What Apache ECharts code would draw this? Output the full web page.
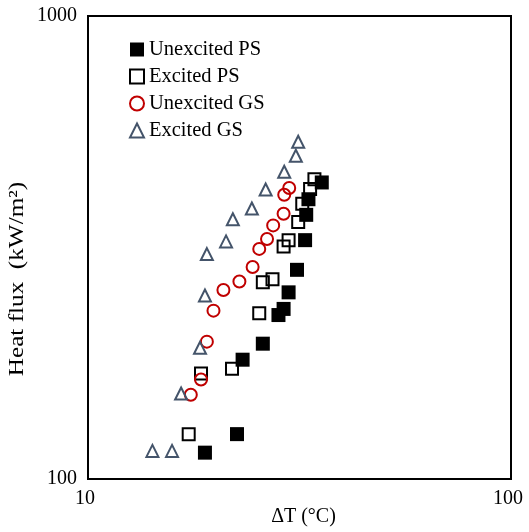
<!DOCTYPE html>
<html><head><meta charset="utf-8">
<script src="https://cdn.jsdelivr.net/npm/echarts@6/dist/echarts.min.js"></script>
<style>html,body{margin:0;padding:0;background:#fff}#c{width:529px;height:532px}</style>
</head><body><div id="c"></div>
<script>
// ΔT (°C), heat flux (kW/m²)
var unexcitedPS_T = [35.7, 33.2, 32.8, 32.6, 31.2, 29.8, 29.0, 28.2, 25.9, 23.2, 22.5, 18.9];
var unexcitedPS_q = [437, 402, 372, 328, 283, 253, 233, 226, 196, 181, 125, 114];
var excitedPS_T = [34.3, 33.5, 32.1, 31.4, 29.8, 29.0, 27.3, 25.9, 25.4, 21.9, 18.5, 17.3];
var excitedPS_q = [444, 423, 393, 359, 328, 318, 270, 266, 228, 173, 169, 125];
var unexcitedGS_T = [29.9, 29.1, 29.0, 27.4, 26.5, 25.4, 24.5, 22.8, 20.9, 19.8, 19.1, 18.5, 17.5];
var unexcitedGS_q = [425, 411, 374, 353, 330, 314, 287, 267, 256, 231, 198, 164, 152];
var excitedGS_T = [31.4, 31.0, 29.1, 26.3, 24.4, 22.0, 21.2, 19.1, 18.9, 18.4, 16.6, 14.2, 15.8];
var excitedGS_q = [535, 499, 461, 422, 384, 364, 326, 306, 249, 192, 153, 115, 115];
var seriesNames = ['Unexcited PS', 'Excited PS', 'Unexcited GS', 'Excited GS'];
var xTicks = [10, 100];
var yTicks = [100, 1000];

function pairs(a, b) { return a.map(function (v, i) { return [v, b[i]]; }); }
var FONT = '"Liberation Serif", "Times New Roman", serif';

var chart = echarts.init(document.getElementById('c'), null, {renderer: 'canvas'});
chart.setOption({
  animation: false,
  backgroundColor: '#fff',
  grid: {left: 88, right: 18, top: 16, bottom: 53, containLabel: false, outerBoundsMode: 'none',
    show: true, borderColor: '#000', borderWidth: 2, backgroundColor: 'transparent'},
  xAxis: {
    type: 'log', logBase: 10, min: xTicks[0], max: xTicks[1],
    name: 'ΔT (°C)', nameLocation: 'middle', nameGap: 28, nameMoveOverlap: false,
    nameTextStyle: {fontFamily: FONT, fontSize: 20, color: '#000', padding: [0, 0, 0, 8]},
    axisLine: {lineStyle: {color: '#000', width: 2}},
    axisTick: {show: false}, splitLine: {show: false}, minorTick: {show: false},
    axisLabel: {fontFamily: FONT, fontSize: 20, color: '#000', margin: 10, padding: [0, 6, 0, 0],
      formatter: function (v) { return String(Math.round(v)); }}
  },
  yAxis: {
    type: 'log', logBase: 10, min: yTicks[0], max: yTicks[1],
    axisLine: {lineStyle: {color: '#000', width: 2}},
    axisTick: {show: false}, splitLine: {show: false},
    axisLabel: {fontFamily: FONT, fontSize: 20, color: '#000', margin: 11,
      formatter: function (v) { return String(Math.round(v)); }}
  },
  legend: {
    orient: 'vertical', left: 124, top: 34, itemGap: 6, itemWidth: 14, itemHeight: 14,
    textStyle: {fontFamily: FONT, fontSize: 20.5, color: '#000', padding: [0, 0, 0, 0]},
    data: seriesNames
  },
  graphic: [{
    type: 'text', x: 17, y: 279, rotation: Math.PI / 2, scaleX: 1.2,
    style: {text: 'Heat flux  (kW/m²)', font: '21px ' + FONT, fill: '#000', textAlign: 'center', textVerticalAlign: 'middle'}
  }],
  series: [
    {name: seriesNames[0], type: 'scatter', symbol: 'rect', symbolSize: 14,
      itemStyle: {color: '#000', opacity: 1}, data: pairs(unexcitedPS_T, unexcitedPS_q)},
    {name: seriesNames[1], type: 'scatter', symbol: 'rect', symbolSize: 12,
      itemStyle: {color: 'rgba(255,255,255,0)', borderColor: '#000', borderWidth: 2, opacity: 1}, data: pairs(excitedPS_T, excitedPS_q)},
    {name: seriesNames[2], type: 'scatter', symbol: 'circle', symbolSize: 12,
      itemStyle: {color: 'rgba(255,255,255,0)', borderColor: '#c00000', borderWidth: 2, opacity: 1}, data: pairs(unexcitedGS_T, unexcitedGS_q)},
    {name: seriesNames[3], type: 'scatter', symbol: 'triangle', symbolSize: 12,
      itemStyle: {color: 'rgba(255,255,255,0)', borderColor: '#44546a', borderWidth: 2, opacity: 1}, data: pairs(excitedGS_T, excitedGS_q)}
  ]
});
</script></body></html>
